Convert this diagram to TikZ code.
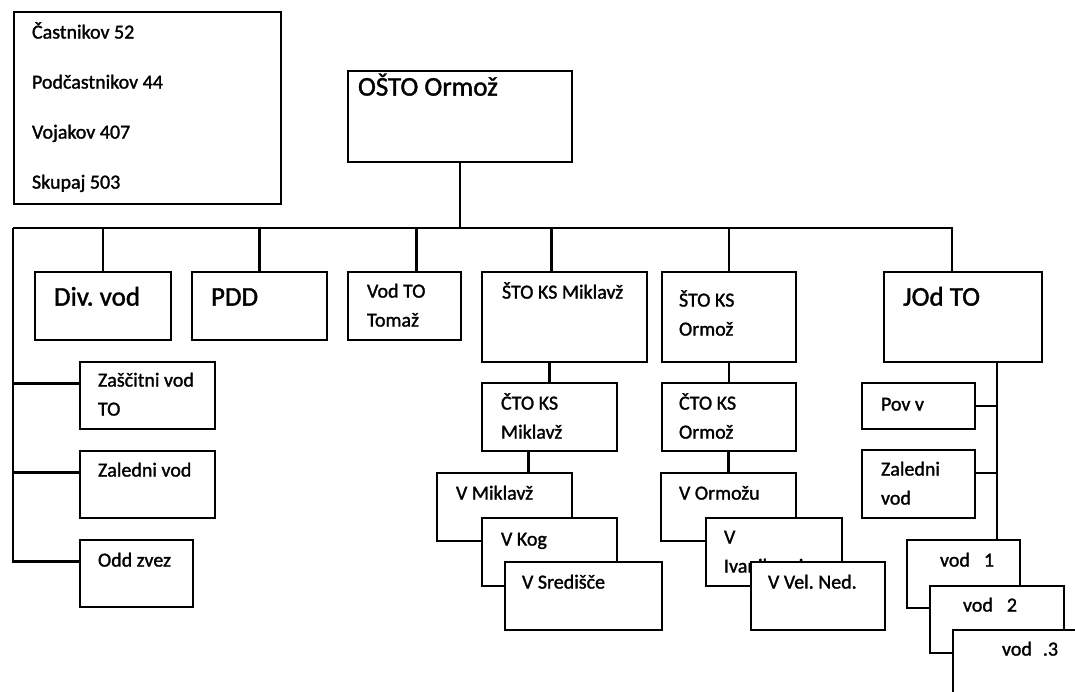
\documentclass[tikz,border=0pt]{standalone}
\usepackage{fontspec}
\setmainfont{Carlito}[FakeBold=1.4]
\frenchspacing

\begin{document}
\begin{tikzpicture}[x=1pt, y=-1pt, line width=2.8pt,
    box/.style={draw, fill=white, rectangle, inner sep=0pt},
    smalltext/.style={font=\fontsize{20}{29}\selectfont},
    bigtext/.style={font=\fontsize{27}{34}\selectfont}]
  \path[use as bounding box, clip] (0,0) rectangle (1075,692);

  % summary box
  \node[box, minimum width=267pt, minimum height=192pt] (stats) at (147.5,108) {};
  \foreach \t [count=\i] in {Častnikov 52, Podčastnikov 44, Vojakov 407, Skupaj 503}
    \node[smalltext, anchor=base west, inner sep=0pt] (stat\i)
      at ([shift={(18pt,{-28pt-50pt*(\i-1)})}]stats.north west) {\t};

  % units: name/x1/y1/x2/y2/text dx/last baseline dy/style/text
  \foreach \n/\xa/\ya/\xb/\yb/\dx/\dy/\f/\t in {
      osto/348/71/572/162/10/26/bigtext/OŠTO Ormož,
      divvod/35/272/171/340/19/35/bigtext/Div. vod,
      pdd/192/272/327/340/19/35/bigtext/PDD,
      vodto/348/272/461/340/19/56/smalltext/{Vod TO\\Tomaž},
      stomik/482/272/647/362/20/28/smalltext/ŠTO KS Miklavž,
      stoorm/662/272/796/362/17/65/smalltext/{ŠTO KS\\Ormož},
      jod/884/272/1042/362/19/35/bigtext/JOd TO,
      zasc/80/362/215/429/18/55/smalltext/{Zaščitni vod\\TO},
      zaled/80/451/215/518/18/27/smalltext/Zaledni vod,
      odd/80/540/193/607/18/28/smalltext/Odd zvez,
      ctomik/482/383/617/451/19/57/smalltext/{ČTO KS\\Miklavž},
      ctoorm/662/383/796/451/17/57/smalltext/{ČTO KS\\Ormož},
      vmik/437/473/572/541/19/28/smalltext/V Miklavž,
      vkog/482/518/617/586/19/29/smalltext/V Kog,
      vsred/505/562/662/630/17/28/smalltext/V Središče,
      vorm/661/473/796/541/18/28/smalltext/V Ormožu,
      vivan/706/518/842/586/18/56/smalltext/{V\\Ivanjkovci},
      vvel/751/562/885/630/17/28/smalltext/V Vel. Ned.,
      pov/862/383/975/429/19/29/smalltext/Pov v,
      zaledj/862/450/975/518/19/56/smalltext/{Zaledni\\vod},
      vod1/907/540/1020/608/33/28/smalltext/vod\hspace{14pt}1,
      vod2/930/586/1064/653/33/27/smalltext/vod\hspace{14pt}2,
      vod3/953/630/1110/720/49/27/smalltext/vod\hspace{11pt}.3} {
    \node[box, minimum width={(\xb-\xa)*1pt}, minimum height={(\yb-\ya)*1pt}]
      (\n) at ({(\xa+\xb)/2},{(\ya+\yb)/2}) {};
    \node[\f, anchor=base west, inner sep=0pt, align=left] (\n-t)
      at ([shift={(\dx pt,-\dy pt)}]\n.north west) {\t};
  }

  % connectors
  \coordinate (busL) at (13,228);
  \draw (osto.south) -- (osto.south |- busL);
  \draw (busL) -| ([xshift=-11pt]jod.north);
  \foreach \n/\d in {divvod/0, pdd/0, vodto/12, stomik/-13, stoorm/0}
    \draw ([xshift=\d pt]\n.north |- busL) -- ([xshift=\d pt]\n.north);
  \foreach \n in {zasc, zaled, odd}
    \draw (busL) |- ([yshift=12pt]\n.west);

  \draw (ctomik.north) -- (ctomik.north |- stomik.south);
  \draw (ctoorm.north) -- (ctoorm.north |- stoorm.south);
  \draw ([xshift=-21pt]ctomik.south) -- ([xshift=-21pt]ctomik.south |- vmik.north);
  \draw (vorm.north) -- (vorm.north |- ctoorm.south);

  \coordinate (jodv) at ([xshift=34pt]jod.south);
  \draw (jodv) -- (jodv |- vod1.north);
  \foreach \n/\d in {pov/0, zaledj/11}
    \draw ([yshift=\d pt]\n.east) -- ([yshift=\d pt]\n.east -| jodv);
\end{tikzpicture}
\end{document}
